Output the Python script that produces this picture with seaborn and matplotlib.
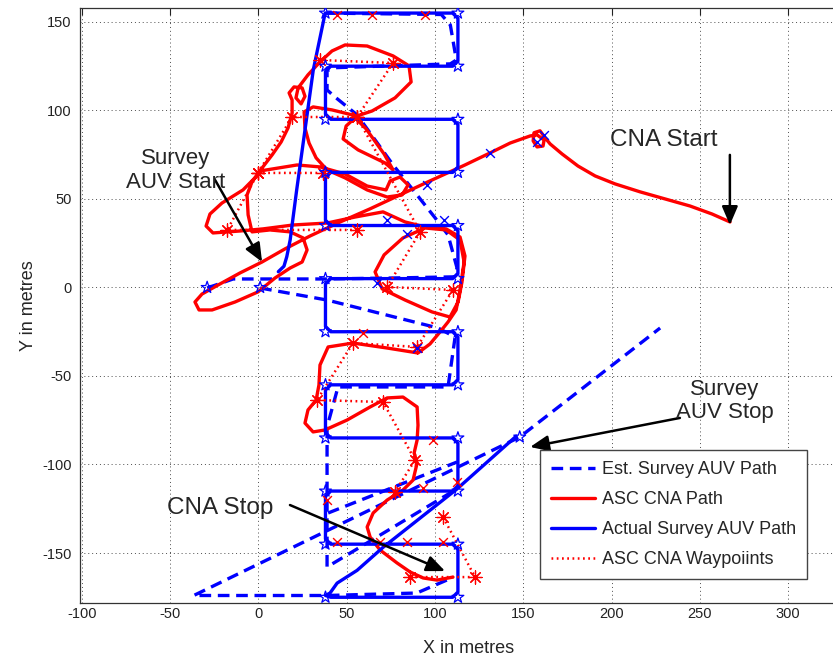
import numpy as np
import pandas as pd
import matplotlib
matplotlib.use("Agg")
import matplotlib.pyplot as plt
import seaborn as sns
from matplotlib.lines import Line2D

sns.set_theme(style="white")
plt.rcParams["font.family"] = ["Liberation Sans", "DejaVu Sans"]
plt.rcParams["axes.unicode_minus"] = False

# ---- ASC CNA path (metres) ----
cna_x = [267.1, 256.9, 244.5, 230.3, 216.2, 202.0, 190.7, 181.0, 172.0, 165.2,
         162.4, 159.5, 156.1, 155.6, 157.8, 161.2, 161.8, 157.8, 153.9, 142.6,
         131.2, 117.0, 97.2, 80.2, 63.2, 46.3, 29.3, 15.1, 2.1, -10.4,
         -22.8, -31.9, -35.9, -33.6, -26.2, -13.2, -0.2, 9.5, 18.0, 24.8,
         27.6, 25.3, 18.0, 6.6, -3.6, -5.8, -6.4, -3.6, 2.1, 7.8,
         12.9, 16.8, 19.1, 19.1, 17.4, 20.2, 24.8, 26.4, 24.2, 21.3,
         22.5, 28.1, 34.9, 41.7, 49.1, 61.6, 76.3, 85.3, 86.5, 77.4,
         64.4, 55.9, 49.7, 48.0, 56.5, 71.8, 76.3, 71.2, 61.0, 53.1,
         41.7, 31.0, 25.9, 26.4, 28.7, 32.7, 38.9, 49.1, 61.6, 72.9,
         81.4, 84.8, 80.2, 74.6, 72.3, 61.6, 49.1, 34.9, 21.9, 2.1,
         -8.7, -20.6, -27.4, -29.6, -25.7, -10.4, 2.7, 19.7, 38.9, 54.8,
         70.6, 83.1, 94.4, 106.3, 114.2, 117.0, 115.3, 113.1, 108.5, 98.3,
         83.1, 70.1, 66.1, 71.2, 81.9, 94.4, 106.3, 114.2, 116.5, 114.2,
         112.0, 107.4, 102.9, 97.2, 90.4, 72.9, 53.6, 39.5, 34.9, 34.3,
         32.7, 28.1, 26.4, 31.0, 37.7, 50.2, 63.3, 72.9, 81.9, 89.9,
         90.4, 89.9, 88.2, 89.9, 87.6, 81.9, 72.9, 65.0, 61.6, 63.3,
         68.9, 78.5, 85.9, 93.3, 101.2, 110.2]
cna_y = [37.0, 41.5, 46.0, 50.0, 54.0, 58.5, 63.0, 68.6, 75.4, 81.1,
         84.5, 88.5, 87.4, 82.8, 79.4, 79.9, 83.3, 86.2, 85.6, 81.6,
         76.0, 69.2, 60.2, 52.3, 44.4, 37.0, 29.1, 21.8, 14.4, 8.2,
         1.4, -3.7, -8.2, -12.7, -12.7, -8.2, -2.5, 5.4, 11.0, 14.4,
         21.2, 28.0, 31.4, 32.5, 31.4, 41.0, 52.3, 59.6, 67.5, 74.9,
         82.2, 90.1, 98.6, 105.9, 109.9, 113.3, 112.7, 108.0, 103.7, 107.1,
         112.7, 120.1, 127.4, 133.6, 137.0, 136.4, 130.8, 125.2, 116.1, 107.1,
         99.7, 96.9, 91.2, 83.9, 77.7, 70.3, 66.4, 75.4, 89.6, 97.5,
         100.3, 102.0, 99.2, 90.1, 81.6, 73.2, 66.4, 61.9, 55.1, 51.1,
         52.3, 57.9, 62.4, 60.2, 55.1, 57.3, 64.1, 68.1, 69.2, 66.0,
         55.1, 47.7, 41.5, 34.7, 30.8, 31.9, 33.1, 35.3, 36.4, 39.8,
         42.7, 37.0, 34.2, 33.1, 28.5, 17.8, 3.1, -8.2, -16.7, -13.8,
         -7.1, -0.8, 8.8, 18.4, 28.0, 33.6, 32.5, 26.8, 14.4, -1.4,
         -12.7, -19.5, -25.1, -31.9, -37.0, -34.2, -31.4, -33.6, -43.8, -55.1,
         -63.6, -69.2, -76.6, -81.6, -80.5, -74.9, -67.5, -62.4, -61.9, -67.5,
         -77.8, -86.2, -93.5, -99.2, -108.8, -114.4, -120.1, -127.4, -135.3, -141.0,
         -148.3, -155.6, -160.7, -164.1, -165.3, -163.6]

# ---- Actual survey AUV path ----
auv_x = [11.3, 14.5, 16.1, 18.0, 21.7, 31.1, 37.8,
         41, 110, 113, 113, 110, 41, 38, 38, 41, 110, 113, 113, 110, 41, 38,
         38, 41, 110, 113, 113, 110, 41, 38, 38, 41, 110, 113, 113, 110, 41,
         38, 38, 41, 110, 113, 113, 110, 41, 38, 38, 41, 110, 113, 113, 110,
         41, 38, 40.6, 44.6, 55.9, 70.6, 112.5, 146.0]
auv_y = [8.9, 12.0, 17.4, 26.8, 55.1, 122.9, 154.9,
         155, 155, 152, 128, 125, 125, 122, 98, 95, 95, 92, 68, 65, 65, 62,
         38, 35, 35, 32, 8, 5, 5, 2, -22, -25, -25, -28, -52, -55, -55,
         -58, -82, -85, -85, -88, -112, -115, -115, -118, -142, -145, -145, -148, -172, -175,
         -175, -174, -172.6, -167.0, -159.8, -146.8, -113.8, -84.0]

# ---- Estimated survey AUV path (segments between position resets) ----
est_x = [38.0, 103.6, 108.7, 112.1, 108.7, 74.6, 38.9, 38.9, 43.4, 55.9,
         76.3, 87.6, 100.1, 107.4, 112.5, 111.0, 78.5, 38.9, -14.3, -29.0,
         1.0, 38.9, 101.8, 111.4, 107.4, 45.1, 38.9, 38.9, 111.4,
         39.5, 112.5,
         106.7, 89.7, 38.9, -36.6, 148.0, 227.5]
est_y = [155.0, 154.2, 148.3, 128.5, 126.3, 125.2, 124.0, 111.6, 107.6, 97.5,
         69.2, 55.1, 39.3, 29.7, 11.0, 6.0, 5.4, 4.8, 4.8, -0.3,
         -0.3, -7.1, -22.9, -28.0, -56.2, -56.2, -78.8, -157.9, -114.4,
         -127.4, -98.6,
         -165.3, -172.6, -174.0, -174.0, -84.5, -22.9]
est_seg = [0] * 20 + [1] * 9 + [2] * 2 + [3] * 6

# ---- ASC CNA waypoints (separate legs) ----
wp_x = [55.9, -17.6, -0.2, 36.6,
        -0.2, 19.1, 55.9, 76.3, 34.9,
        55.9, 91.6, 72.9, 110.2, 89.9, 53.6, 33.2, 70.6, 88.7, 77.4,
        104.6, 122.7, 85.9]
wp_y = [32.5, 32.5, 64.7, 64.7,
        64.7, 96.3, 96.3, 126.8, 128.5,
        96.3, 31.4, 0.3, -1.4, -33.6, -31.4, -63.6, -64.7, -97.5, -115.5,
        -129.7, -163.6, -163.6]
wp_seg = [0] * 4 + [1] * 5 + [2] * 10 + [3] * 3

# survey turn points and position fixes
star_x = [38, 113, 113, 38, 113, 38, 38, 113, 113, 38, 38, 113, 113, 38,
          38, 113, 113, 38, 38, 113, 113, 38, 38, 113, -29, 1, 148]
star_y = [155, 155, 125, 125, 95, 95, 65, 65, 35, 35, 5, 5, -25, -25,
          -55, -55, -85, -85, -115, -115, -145, -145, -175, -175, 0, 0, -84.5]
bx_x = [131, 158, 162, 95.5, 73, 84, 67, 90, 105]
bx_y = [76, 82, 86, 58, 38, 30, 2.5, -34, 38]
rx_x = [44.6, 64.4, 94.4, 59, 38.7, 44.5, 69, 84, 104.6, 112.5, 99, 93]
rx_y = [154, 154, 154, -26, -120, -144, -144, -144, -144, -110, -86, -113]

BLUE = "#0000ff"
RED = "#ff0000"
DASH = (0, (3.5, 2.0))
DOT = (0, (0.7, 1.4))

fig = plt.figure(figsize=(8.33, 6.64), dpi=100)
ax = fig.add_axes([80 / 833, 0.0925, 0.9328, 0.8958])

est_df = pd.DataFrame({"x": est_x, "y": est_y, "seg": est_seg})
sns.lineplot(data=est_df, x="x", y="y", units="seg", estimator=None, sort=False,
             color=BLUE, lw=2.4, linestyle=DASH, ax=ax, zorder=3)
sns.lineplot(x=cna_x, y=cna_y, sort=False, estimator=None, color=RED, lw=2.4,
             ax=ax, zorder=4)
sns.lineplot(x=auv_x, y=auv_y, sort=False, estimator=None, color=BLUE, lw=2.4,
             ax=ax, zorder=5)
wp_df = pd.DataFrame({"x": wp_x, "y": wp_y, "seg": wp_seg})
sns.lineplot(data=wp_df, x="x", y="y", units="seg", estimator=None, sort=False,
             color=RED, lw=1.8, linestyle=DOT, ax=ax, zorder=6)

# markers
sns.scatterplot(x=wp_x, y=wp_y, marker=(8, 2, 0), s=90, color=RED,
                linewidth=0.9, ax=ax, zorder=7)
sns.scatterplot(x=star_x, y=star_y, marker="*", s=80, facecolor="none",
                edgecolor=BLUE, linewidth=0.9, ax=ax, zorder=7)
sns.scatterplot(x=bx_x, y=bx_y, marker="x", s=40, color=BLUE, linewidth=1.0,
                ax=ax, zorder=7)
sns.scatterplot(x=rx_x, y=rx_y, marker="x", s=40, color=RED, linewidth=1.0,
                ax=ax, zorder=7)

ax.set_xlim(-101, 339)
ax.set_ylim(-178, 158)
ax.set_xticks(np.arange(-100, 301, 50))
ax.set_yticks(np.arange(-150, 151, 50))
ax.grid(True, linestyle=(0, (1, 3)), color="#222222", lw=0.7, alpha=0.8)
ax.set_axisbelow(True)
ax.tick_params(direction="in", top=True, right=False, length=5, width=0.8,
               labelsize=10.5, colors="#222222")
ax.tick_params(axis="x", pad=3)
ax.tick_params(axis="y", pad=6)
for side in ["left", "bottom", "top"]:
    ax.spines[side].set_color("#333333")
    ax.spines[side].set_linewidth(0.9)
ax.spines["right"].set_visible(False)
ax.set_xlabel("X in metres", fontsize=13, labelpad=14)
ax.set_ylabel("Y in metres", fontsize=13, labelpad=4)

# annotations
arrow = dict(arrowstyle="-|>,head_length=0.7,head_width=0.3", color="black",
             lw=1.8, mutation_scale=16, shrinkA=0, shrinkB=0)
ax.annotate("", xy=(2.1, 14.4), xytext=(-24.5, 60.7), arrowprops=arrow, zorder=9)
ax.text(-47, 66, "Survey\nAUV Start", ha="center", va="center", fontsize=16,
        linespacing=1.15, zorder=9)
ax.annotate("", xy=(267, 35.3), xytext=(267, 74.9), arrowprops=arrow, zorder=9)
ax.text(229.7, 83.3, "CNA Start", ha="center", va="center", fontsize=17.5, zorder=9)
ax.annotate("", xy=(153.9, -90.1), xytext=(238.7, -73.7), arrowprops=arrow, zorder=9)
ax.text(264, -64, "Survey\nAUV Stop", ha="center", va="center", fontsize=16,
        linespacing=1.15, zorder=9)
ax.annotate("", xy=(105.7, -160.2), xytext=(17.9, -122.9), arrowprops=arrow, zorder=9)
ax.text(-21.7, -124.6, "CNA Stop", ha="center", va="center", fontsize=17.5, zorder=9)

handles = [
    Line2D([], [], color=BLUE, lw=2.4, linestyle=DASH),
    Line2D([], [], color=RED, lw=2.4),
    Line2D([], [], color=BLUE, lw=2.4),
    Line2D([], [], color=RED, lw=1.8, linestyle=DOT),
]
labels = ["Est. Survey AUV Path", "ASC CNA Path", "Actual Survey AUV Path",
          "ASC CNA Waypoiints"]
leg = ax.legend(handles, labels, loc="upper left",
                bbox_to_anchor=(540 / 833, 1 - 450 / 664),
                bbox_transform=fig.transFigure, borderaxespad=0, fontsize=13,
                frameon=True, fancybox=False, edgecolor="#444444", framealpha=1,
                handlelength=2.4, handletextpad=0.4, labelspacing=0.72,
                borderpad=0.62)
leg.get_frame().set_linewidth(1.0)
leg.set_zorder(10)

fig.savefig("out.png", dpi=100, facecolor="white")
